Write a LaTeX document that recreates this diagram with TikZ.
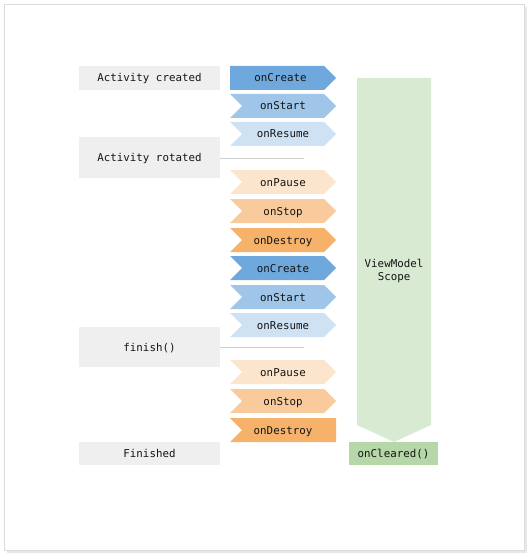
\documentclass[tikz,border=0pt]{standalone}
\usepackage{fontspec}
\setmonofont{DejaVu Sans Mono}
\usetikzlibrary{shapes.symbols}

\definecolor{labelgray}{HTML}{EFEFEF}
\definecolor{blueA}{HTML}{6FA8DC}
\definecolor{blueB}{HTML}{9FC5E8}
\definecolor{blueC}{HTML}{CFE2F3}
\definecolor{orangeA}{HTML}{FCE5CD}
\definecolor{orangeB}{HTML}{F9CB9C}
\definecolor{orangeC}{HTML}{F6B26B}
\definecolor{scopegreen}{HTML}{D9EAD3}
\definecolor{clearedgreen}{HTML}{B6D7A8}
\definecolor{inktext}{HTML}{141414}
\definecolor{framegray}{HTML}{DCDCDC}

\begin{document}
\begin{tikzpicture}[x=1pt, y=-1pt,
  every node/.style={text=inktext, font=\ttfamily\fontsize{10.8}{13}\selectfont},
  oneline/.style={text height=8pt, text depth=0pt},
  event/.style={oneline, fill=labelgray, minimum width=141pt, inner sep=0pt},
  chev/.style={oneline, shape=signal, signal to=east, signal from=west,
    signal pointer angle=90, minimum width=106pt, minimum height=24pt,
    inner sep=0pt},
  create/.style={chev, fill=blueA},
  start/.style={chev, fill=blueB},
  resume/.style={chev, fill=blueC},
  pause/.style={chev, fill=orangeA},
  stop/.style={chev, fill=orangeB},
  destroy/.style={chev, fill=orangeC},
  divider/.style={draw=black!18, line width=0.7pt}]

\useasboundingbox (0,0) rectangle (530,556);

% outer frame with a soft drop edge
\draw[framegray!70, line width=1.6pt] (7,552) -- (526,552) -- (526,7);
\draw[framegray, line width=1pt] (4.5,4.5) rectangle (524.5,550.5);

% activity events
\node[event, minimum height=24pt] (created) at (149.5,78) {Activity created};
\node[event, minimum height=41pt] (rotated) at (149.5,157.5) {Activity rotated};
\node[event, minimum height=40pt] (finish) at (149.5,347) {finish()};
\node[event, minimum height=23pt] (finished) at (149.5,453.5) {Finished};

% lifecycle callbacks (first one has a flat tail, last one a flat head)
\node[create, signal from=nowhere] (c1) at (277,78) {\hspace{7pt}onCreate};
\node[start] (s1) at (283,106) {onStart};
\node[resume] (r1) at (283,134) {onResume};
\node[pause] (p1) at (283,182) {onPause};
\node[stop] (t1) at (283,211) {onStop};
\node[destroy] (d1) at (283,240) {onDestroy};
\node[create] (c2) at (283,268) {onCreate};
\node[start] (s2) at (283,297) {onStart};
\node[resume] (r2) at (283,325) {onResume};
\node[pause] (p2) at (283,372) {onPause};
\node[stop] (t2) at (283,401) {onStop};
\node[destroy, signal to=nowhere,
  label={[oneline, inner sep=0pt, xshift=-6pt]center:onDestroy}] (d2) at (289,430) {};

% dividers after the configuration change and finish()
\coordinate (rotEnd) at (304,158);
\coordinate (finEnd) at (304,347);
\draw[divider] (rotated.east |- rotEnd) -- (rotEnd);
\draw[divider] (finish.east |- finEnd) -- (finEnd);

% ViewModel scope arrow
\fill[scopegreen] (357,78) -- (431,78) -- (431,425) -- (394,442) -- (357,425) -- cycle;
\node[align=center] (scope) at (394,271) {ViewModel\\Scope};

\node[oneline, fill=clearedgreen, minimum width=89pt, minimum height=23pt, inner sep=0pt]
  (cleared) at (393.5,453.5) {onCleared()};
\end{tikzpicture}
\end{document}
